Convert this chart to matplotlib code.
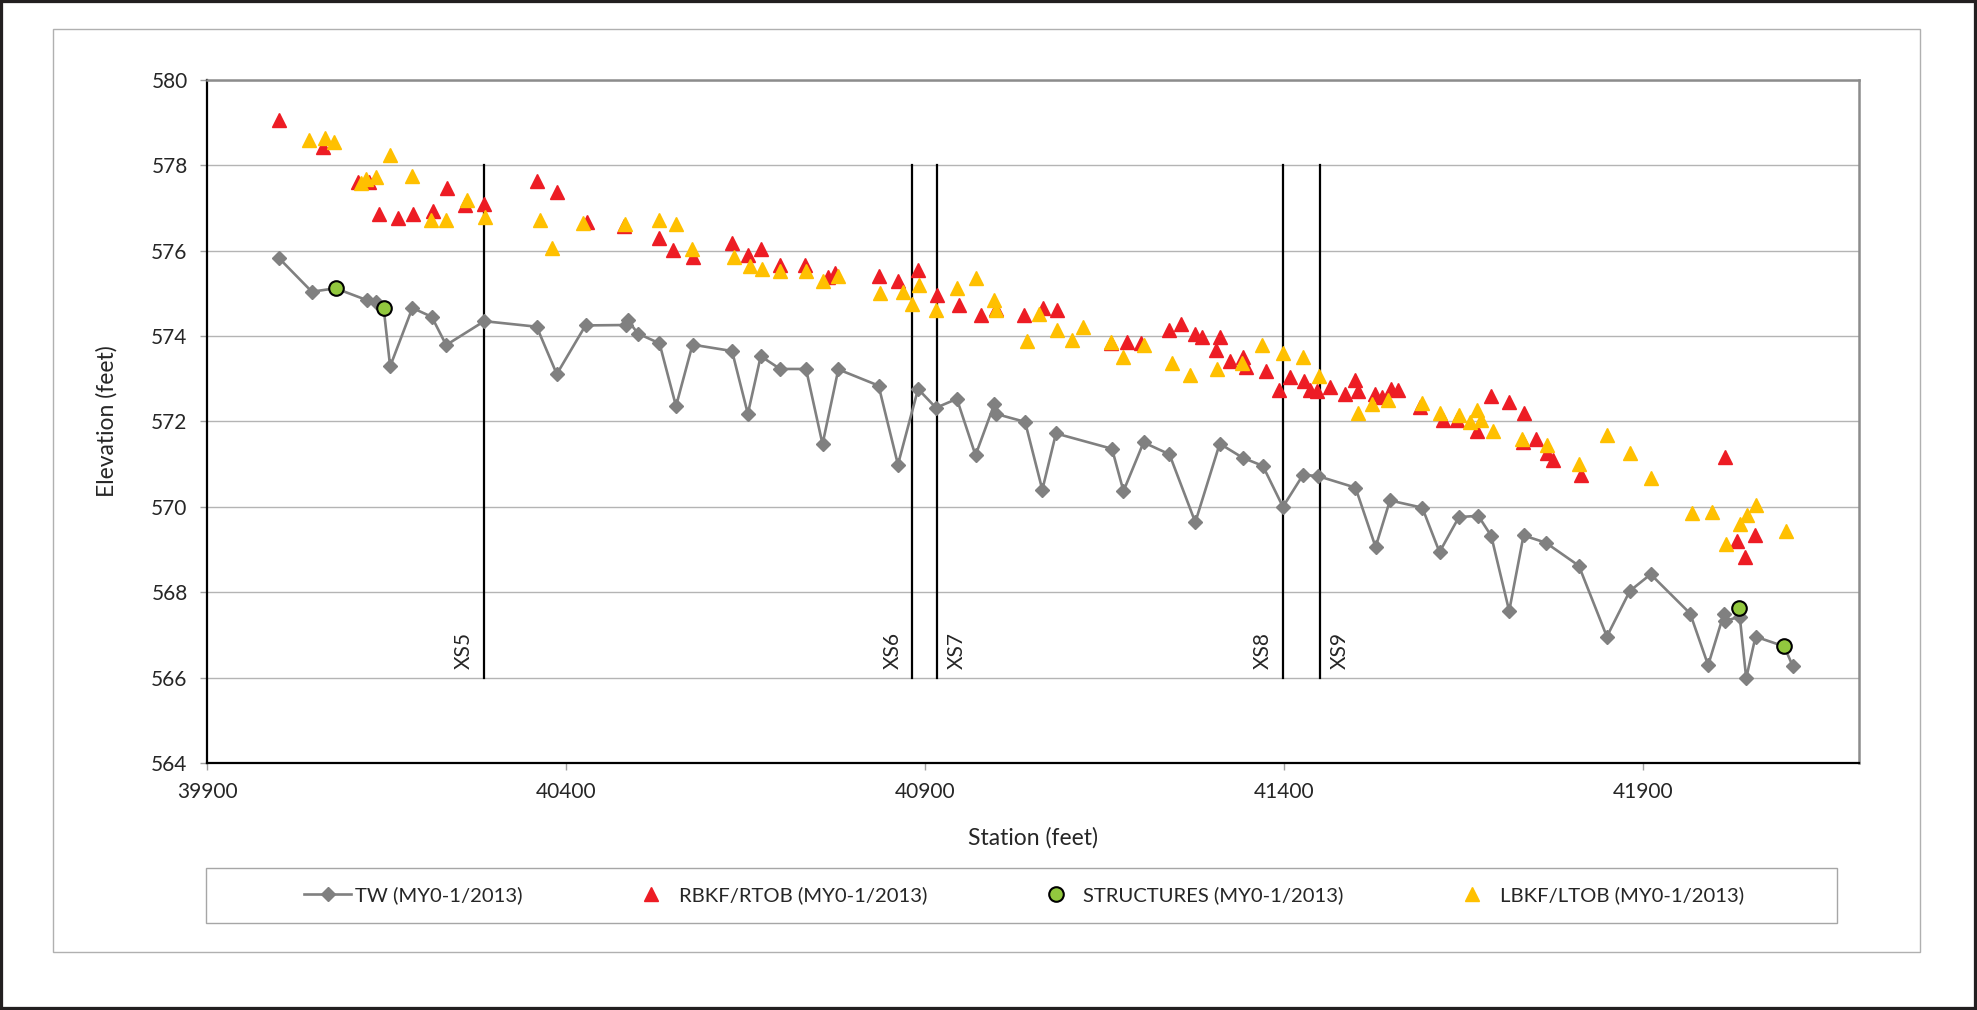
import matplotlib.pyplot as plt
from matplotlib.patches import Rectangle

# Perfil longitudinal: thalweg, bancos y estructuras (MY0-1/2013)
tw_station = [40000, 40046, 40079, 40123, 40135, 40146, 40155, 40186, 40213, 40233,
              40286, 40359, 40387, 40427, 40483, 40486, 40500, 40530, 40553, 40576,
              40631, 40653, 40671, 40698, 40734, 40757, 40779, 40835, 40862, 40890,
              40915, 40944, 40970, 40996, 40998, 41039, 41063, 41082, 41160, 41176,
              41204, 41240, 41276, 41310, 41342, 41370, 41398, 41426, 41447, 41499,
              41527, 41547, 41592, 41616, 41643, 41670, 41688, 41713, 41733, 41764,
              41810, 41849, 41881, 41910, 41965, 41990, 42012, 42013, 42034, 42043,
              42056, 42096, 42108]
tw_elev = [575.83, 575.04, 575.12, 574.84, 574.81, 574.65, 573.29, 574.66, 574.45, 573.79,
           574.35, 574.22, 573.11, 574.25, 574.26, 574.37, 574.06, 573.83, 572.36, 573.80,
           573.65, 572.18, 573.53, 573.23, 573.23, 571.47, 573.22, 572.84, 570.99, 572.76,
           572.32, 572.53, 571.21, 572.40, 572.18, 571.99, 570.40, 571.72, 571.36, 570.37,
           571.51, 571.23, 569.64, 571.48, 571.15, 570.96, 570.00, 570.75, 570.72, 570.45,
           569.06, 570.15, 569.98, 568.94, 569.76, 569.79, 569.32, 567.56, 569.33, 569.16,
           568.62, 566.96, 568.03, 568.42, 567.50, 566.29, 567.50, 567.32, 567.43, 565.99,
           566.96, 566.73, 566.26]

rb_station = [40000, 40062, 40110, 40125, 40140, 40166, 40187, 40214, 40234, 40259,
              40285, 40360, 40387, 40429, 40480, 40529, 40549, 40576, 40631, 40653,
              40671, 40698, 40732, 40764, 40775, 40835, 40862, 40890, 40916, 40947,
              40977, 40999, 41038, 41064, 41083, 41158, 41181, 41201, 41240, 41256,
              41275, 41285, 41305, 41310, 41324, 41342, 41347, 41374, 41392, 41408,
              41428, 41436, 41446, 41463, 41484, 41499, 41502, 41526, 41536, 41548,
              41558, 41589, 41621, 41640, 41668, 41688, 41713, 41732, 41734, 41751,
              41765, 41774, 41813, 42013, 42030, 42041, 42055]
rb_elev = [579.06, 578.42, 577.62, 577.62, 576.87, 576.76, 576.85, 576.94, 577.48, 577.06,
           577.09, 577.64, 577.38, 576.68, 576.58, 576.29, 576.01, 575.86, 576.19, 575.91,
           576.03, 575.66, 575.66, 575.39, 575.47, 575.41, 575.29, 575.54, 574.96, 574.74,
           574.49, 574.64, 574.49, 574.66, 574.61, 573.84, 573.87, 573.84, 574.14, 574.28,
           574.06, 573.98, 573.67, 573.99, 573.41, 573.51, 573.28, 573.18, 572.73, 573.04,
           572.94, 572.73, 572.72, 572.80, 572.64, 572.98, 572.72, 572.64, 572.58, 572.77,
           572.73, 572.33, 572.03, 572.03, 571.77, 572.59, 572.46, 571.52, 572.20, 571.60,
           571.26, 571.10, 570.74, 571.17, 569.19, 568.82, 569.33]

st_station = [40079, 40146, 42033, 42096]
st_elev = [575.12, 574.65, 567.64, 566.73]

lb_station = [40042, 40064, 40077, 40114, 40122, 40135, 40155, 40185, 40212, 40233,
              40262, 40287, 40364, 40381, 40424, 40482, 40530, 40553, 40575, 40634,
              40656, 40673, 40698, 40734, 40757, 40779, 40837, 40869, 40881, 40892,
              40915, 40944, 40970, 40996, 40999, 41041, 41058, 41083, 41105, 41119,
              41158, 41176, 41204, 41244, 41269, 41306, 41341, 41369, 41398, 41426,
              41448, 41502, 41522, 41544, 41592, 41616, 41643, 41659, 41668, 41674,
              41690, 41731, 41765, 41810, 41849, 41881, 41911, 41968, 41995, 42015,
              42034, 42044, 42056, 42099]
lb_elev = [578.59, 578.63, 578.55, 577.59, 577.69, 577.72, 578.24, 577.75, 576.72, 576.73,
           577.20, 576.80, 576.73, 576.07, 576.65, 576.62, 576.72, 576.62, 576.05, 575.86,
           575.64, 575.57, 575.53, 575.53, 575.30, 575.41, 575.00, 575.04, 574.75, 575.19,
           574.61, 575.12, 575.35, 574.84, 574.62, 573.89, 574.52, 574.14, 573.91, 574.21,
           573.86, 573.51, 573.79, 573.36, 573.10, 573.24, 573.36, 573.79, 573.61, 573.50,
           573.06, 572.19, 572.41, 572.51, 572.44, 572.20, 572.15, 571.99, 572.28, 572.03,
           571.77, 571.58, 571.46, 571.01, 571.68, 571.25, 570.68, 569.86, 569.88, 569.13,
           569.60, 569.81, 570.05, 569.43]

# Secciones transversales
xs_station = [40286, 40882, 40916, 41398, 41449]
xs_names = ['XS5', 'XS6', 'XS7', 'XS8', 'XS9']
xs_side = [-1, -1, 1, -1, 1]

x_ticks = [39900, 40400, 40900, 41400, 41900]
y_ticks = [564, 566, 568, 570, 572, 574, 576, 578, 580]

plt.rcParams['font.family'] = ['Lato', 'DejaVu Sans']
txt = '#262626'
fs = 15

fig = plt.figure(figsize=(19.77, 10.10), dpi=100)
ax = fig.add_axes([0.1047, 0.2446, 0.8356, 0.6762])

ax.plot(tw_station, tw_elev, color='#808080', lw=1.9, marker='D', ms=7,
        mec='#808080', mfc='#808080', zorder=3, label='TW (MY0-1/2013)')
ax.plot(rb_station, rb_elev, ls='none', marker='^', ms=10, color='#ED1C24',
        zorder=4, label='RBKF/RTOB (MY0-1/2013)')
ax.plot(st_station, st_elev, ls='none', marker='o', ms=10.5, mfc='#92C83E',
        mec='black', mew=1.5, zorder=5, label='STRUCTURES (MY0-1/2013)')
ax.plot(lb_station, lb_elev, ls='none', marker='^', ms=10, color='#FFC000',
        zorder=6, label='LBKF/LTOB (MY0-1/2013)')

# lineas de las secciones
for xs, name, side in zip(xs_station, xs_names, xs_side):
    ax.plot([xs, xs], [566, 578], color='black', lw=1.6, zorder=2)
    ax.annotate(name, xy=(xs, 566.2), xytext=(side * 20, 0), textcoords='offset pixels',
                rotation=90, ha='center', va='bottom', fontsize=fs, color=txt)

ax.set_xlim(39900, 42200)
ax.set_ylim(564, 580)
ax.set_xticks(x_ticks)
ax.set_yticks(y_ticks)
ax.grid(axis='y', color='#b4b4b4', lw=1.0, zorder=0)
ax.set_axisbelow(True)

for s in ['left', 'bottom']:
    ax.spines[s].set_color('black')
    ax.spines[s].set_linewidth(1.6)
for s in ['top', 'right']:
    ax.spines[s].set_color('#8c8c8c')
    ax.spines[s].set_linewidth(1.8)

ax.tick_params(axis='both', length=5, width=1, color='#a0a0a0', pad=9,
               labelsize=fs, labelcolor=txt)

ax.set_xlabel('Station (feet)', fontsize=16.5, color=txt, labelpad=18)
ax.set_ylabel('Elevation (feet)', fontsize=16.5, color=txt, labelpad=24)

# leyenda centrada dentro de su recuadro
fig.patches.append(Rectangle((206 / 1977, 1 - 923 / 1010), 1631 / 1977, 55 / 1010,
                             transform=fig.transFigure, fill=False, ec='#a6a6a6', lw=1.0))
h, l = ax.get_legend_handles_labels()
leg = fig.legend(h, l, loc='center', ncol=4, fontsize=14.6,
                 bbox_to_anchor=(1024 / 1977, 1 - 895.5 / 1010),
                 frameon=False, handlelength=2.3, handletextpad=0.2,
                 columnspacing=5.2, borderpad=0)
for t in leg.get_texts():
    t.set_color(txt)

# marco interior y borde exterior
fig.patches.append(Rectangle((53 / 1977, 1 - 952 / 1010), 1867 / 1977, 923 / 1010,
                             transform=fig.transFigure, fill=False, ec='#b0b0b0', lw=1.0))
fig.patches.append(Rectangle((0, 0), 1, 1, transform=fig.transFigure, fill=False,
                             ec='#231f20', lw=4.5))

fig.savefig('out.png', dpi=100)
